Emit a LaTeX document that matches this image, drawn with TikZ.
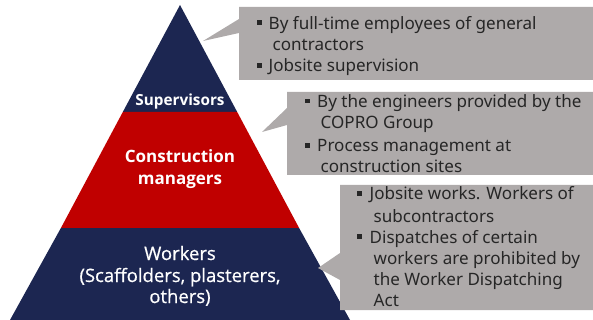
\documentclass[tikz,border=0pt]{standalone}
\usepackage{fontspec}
\setmainfont{Noto Sans}
\newfontfamily\tierfont{Open Sans}
\newfontfamily\tiermedium[FakeBold=0.7]{Open Sans}
\definecolor{navy}{HTML}{1C2651}
\definecolor{tierred}{HTML}{C00000}
\definecolor{notegray}{HTML}{AEAAAA}
\definecolor{notetext}{HTML}{262626}
\tikzset{
  tierlabel/.style={text=white, inner sep=0pt, anchor=base, font=\tierfont\fontsize{17}{20}\selectfont\bfseries},
  worklabel/.style={text=white, inner sep=0pt, anchor=base, font=\tiermedium\fontsize{18.5}{22}\selectfont},
  note/.style={fill=notegray, draw=none},
  notetxt/.style={text=notetext, inner sep=0pt, anchor=base west, font=\fontsize{17.05}{20}\selectfont},
  bulletmark/.style={fill=notetext, inner sep=0pt, minimum size=4.6pt, anchor=south west},
}
\begin{document}
\begin{tikzpicture}[x=1pt, y=-1pt]
  \useasboundingbox (0,0) rectangle (593,320);

  % pyramid corners and tier boundaries
  \coordinate (apex) at (180,5);
  \coordinate (bl) at (10,320);
  \coordinate (br) at (350,320);
  \coordinate (s1l) at (122.8,112);
  \coordinate (s1r) at (237.2,112);
  \coordinate (s2l) at (60.9,228);
  \coordinate (s2r) at (299.1,228);

  \fill[navy] (apex) -- (s1r) -- (s1l) -- cycle;
  \fill[tierred] (s1l) -- (s1r) -- (s2r) -- (s2l) -- cycle;
  \fill[navy] (s2l) -- (s2r) -- (br) -- (bl) -- cycle;

  % tier labels
  \node[tierlabel, font=\tierfont\fontsize{15.3}{18}\selectfont\bfseries] (sup) at (180,106) {Supervisors};
  \node[tierlabel] (cm1) at (180,163) {Construction};
  \node[tierlabel] (cm2) at (180,185) {managers};
  \node[worklabel] (wk1) at (180,260) {Workers};
  \node[worklabel] (wk2) at (180,282) {(Scaffolders, plasterers,};
  \node[worklabel] (wk3) at (180,303) {others)};

  % callout pointer tips
  \coordinate (tip1) at (203,41);
  \coordinate (tip2) at (262,132);
  \coordinate (tip3) at (318,268);

  % callouts
  \fill[note] (239,7) -- (593,7) -- (593,80) -- (239,80) -- (239,33) -- (tip1) -- (239,19) -- cycle;
  \fill[note] (287,92) -- (593,92) -- (593,175) -- (287,175) -- (287,125) -- (tip2) -- (287,108) -- cycle;
  \fill[note] (340,185) -- (593,185) -- (593,310) -- (340,310) -- (340,280) -- (tip3) -- (340,253) -- cycle;

  % callout texts
  \node[bulletmark] (b11) at (257,25.3) {};
  \node[notetxt] (t11) at (268.5,29.3) {By full-time employees of general};
  \node[notetxt] (t12) at (272.5,50.5) {contractors};
  \node[bulletmark] (b12) at (257,68) {};
  \node[notetxt] (t13) at (268.5,72) {Jobsite supervision};

  \node[bulletmark] (b21) at (305,103.5) {};
  \node[notetxt] (t21) at (317,107.3) {By the engineers provided by the};
  \node[notetxt] (t22) at (320.5,129) {COPRO Group};
  \node[bulletmark] (b22) at (305,148) {};
  \node[notetxt] (t23) at (317,152) {Process management at};
  \node[notetxt] (t24) at (320.5,173) {construction sites};

  \node[bulletmark] (b31) at (357,196) {};
  \node[notetxt] (t31) at (369.5,200) {Jobsite works. Workers of};
  \node[notetxt] (t32) at (373.5,222) {subcontractors};
  \node[bulletmark] (b32) at (357,239) {};
  \node[notetxt] (t33) at (369.5,243) {Dispatches of certain};
  \node[notetxt] (t34) at (373.5,264) {workers are prohibited by};
  \node[notetxt] (t35) at (373.5,285) {the Worker Dispatching};
  \node[notetxt] (t36) at (373.5,306) {Act};
\end{tikzpicture}
\end{document}
